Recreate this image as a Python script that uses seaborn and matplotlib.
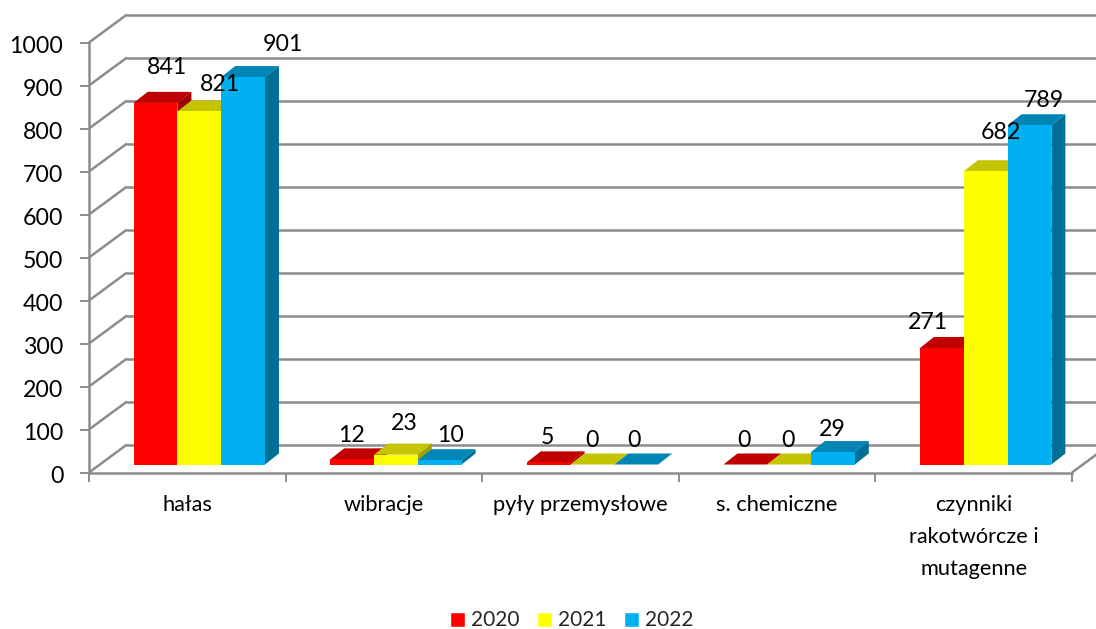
import matplotlib
matplotlib.use('Agg')
import matplotlib.pyplot as plt
from matplotlib.patches import Polygon
from matplotlib.transforms import Affine2D
import pandas as pd
import seaborn as sns

categories = ['hałas', 'wibracje', 'pyły przemysłowe', 's. chemiczne',
              'czynniki\nrakotwórcze i\nmutagenne']
years = ['2020', '2021', '2022']
values_2020 = [841, 12, 5, 0, 271]
values_2021 = [821, 23, 0, 0, 682]
values_2022 = [901, 10, 0, 29, 789]
y_ticks = list(range(0, 1001, 100))

colors = ['#FF0000', '#FFFF00', '#00B0F0']
top_colors = ['#C00000', '#C4C400', '#0085B5']
side_colors = ['#A00000', '#A0A000', '#006F98']
grid_color = '#8C8C8C'

# hand placed labels, pixels from the front top centre of each bar
label_offsets = {
    '2020': [(11, 35), (-1, 24), (-1, 25), (-1, 24), (-14, 25)],
    '2021': [(21, 27), (8, 31), (-1, 24), (-1, 24), (15, 39)],
    '2022': [(40, 33), (11, 25), (-2, 24), (-1, 23), (14, 25)],
}

df = pd.DataFrame({
    'cat': categories * 3,
    'year': [y for y in years for _ in categories],
    'value': values_2020 + values_2021 + values_2022,
})

W, H = 1096, 629
sns.set_theme(style='white')
plt.rcParams['font.family'] = ['Lato', 'DejaVu Sans']

fig = plt.figure(figsize=(W / 100, H / 100), dpi=100)
ax = fig.add_axes([89 / W, 1 - 472.5 / H, (1072 - 89) / W, 430 / H])

sns.barplot(data=df, x='cat', y='value', hue='year', palette=colors, saturation=1,
            width=0.668, gap=0, dodge=True, ax=ax, zorder=3)
ax.set_xlim(-0.5, 4.5)
ax.set_ylim(0, 1000)
ax.set_xlabel('')
ax.set_ylabel('')

# axes, ticks
for s in ['top', 'right']:
    ax.spines[s].set_visible(False)
for s in ['left', 'bottom']:
    ax.spines[s].set_color(grid_color)
    ax.spines[s].set_linewidth(1.8)
ax.set_yticks(y_ticks)
ax.tick_params(axis='y', length=6.5, width=1.4, color=grid_color, labelsize=16.7,
               labelcolor='black', pad=12, left=True)
for lab in ax.get_yticklabels():
    lab.set_transform(lab.get_transform() + Affine2D().translate(0, -2))
ax.set_xticks(range(5))
ax.set_xticklabels(categories, linespacing=1.75)
ax.set_xticks([i - 0.5 for i in range(6)], minor=True)
ax.tick_params(axis='x', which='major', length=0, labelsize=15.7, labelcolor='black', pad=16)
ax.tick_params(axis='x', which='minor', length=6.5, width=1.4, color=grid_color, bottom=True)

# back wall and floor
back = ax.transData + Affine2D().translate(38, 28)
right_edge = 4.5 + 24 / 196.6
for v in y_ticks:
    ax.plot([-0.5, right_edge], [v, v], color=grid_color, lw=1.8, transform=back,
            clip_on=False, zorder=1)
    p0 = ax.transData.transform((-0.5, v))
    ax.add_patch(Polygon([p0, p0 + (38, 28)], closed=False, fill=False, edgecolor=grid_color,
                         lw=1.8, transform=None, clip_on=False, zorder=1))
p0 = ax.transData.transform((4.5, 0))
ax.add_patch(Polygon([p0, p0 + (38, 28)], closed=False, fill=False, edgecolor=grid_color,
                     lw=1.8, transform=None, clip_on=False, zorder=1))

# 3d look on the seaborn bars
front = ax.transData + Affine2D().translate(12, 8)
depth = (14, 11)
bars = [p for c in ax.containers for p in c]
for n, bar in enumerate(bars):
    hue_i = n // len(categories)
    cat_i = n % len(categories)
    z = 3 + cat_i + hue_i * 0.1
    x0, x1 = bar.get_x(), bar.get_x() + bar.get_width()
    h = bar.get_height()
    a, b = front.transform([(x0, 0), (x1, 0)])
    c, d = front.transform([(x0, h), (x1, h)])
    bar.set_transform(front)
    bar.set_clip_on(False)
    bar.set_linewidth(0)
    bar.set_zorder(z + 0.02)
    ax.add_patch(Polygon([c, d, d + depth, c + depth], facecolor=top_colors[hue_i], lw=0,
                         transform=None, clip_on=False, zorder=z))
    ax.add_patch(Polygon([b, b + depth, d + depth, d], facecolor=side_colors[hue_i], lw=0,
                         transform=None, clip_on=False, zorder=z + 0.01))
    dx, dy = label_offsets[years[hue_i]][cat_i]
    ax.annotate(f'{h:.0f}', xy=((c + d) / 2), xycoords='figure pixels',
                xytext=(dx, dy), textcoords='offset pixels', ha='center', va='center',
                fontsize=16.7, color='black', zorder=20, annotation_clip=False)

sns.move_legend(ax, 'center', bbox_to_anchor=(572 / W, 1 - 620.5 / H),
                bbox_transform=fig.transFigure, ncol=3, frameon=False, title=None,
                fontsize=15, handlelength=0.72, handleheight=0.72, handletextpad=0.28,
                columnspacing=0.85, borderpad=0)

fig.savefig('out.png', dpi=100)
